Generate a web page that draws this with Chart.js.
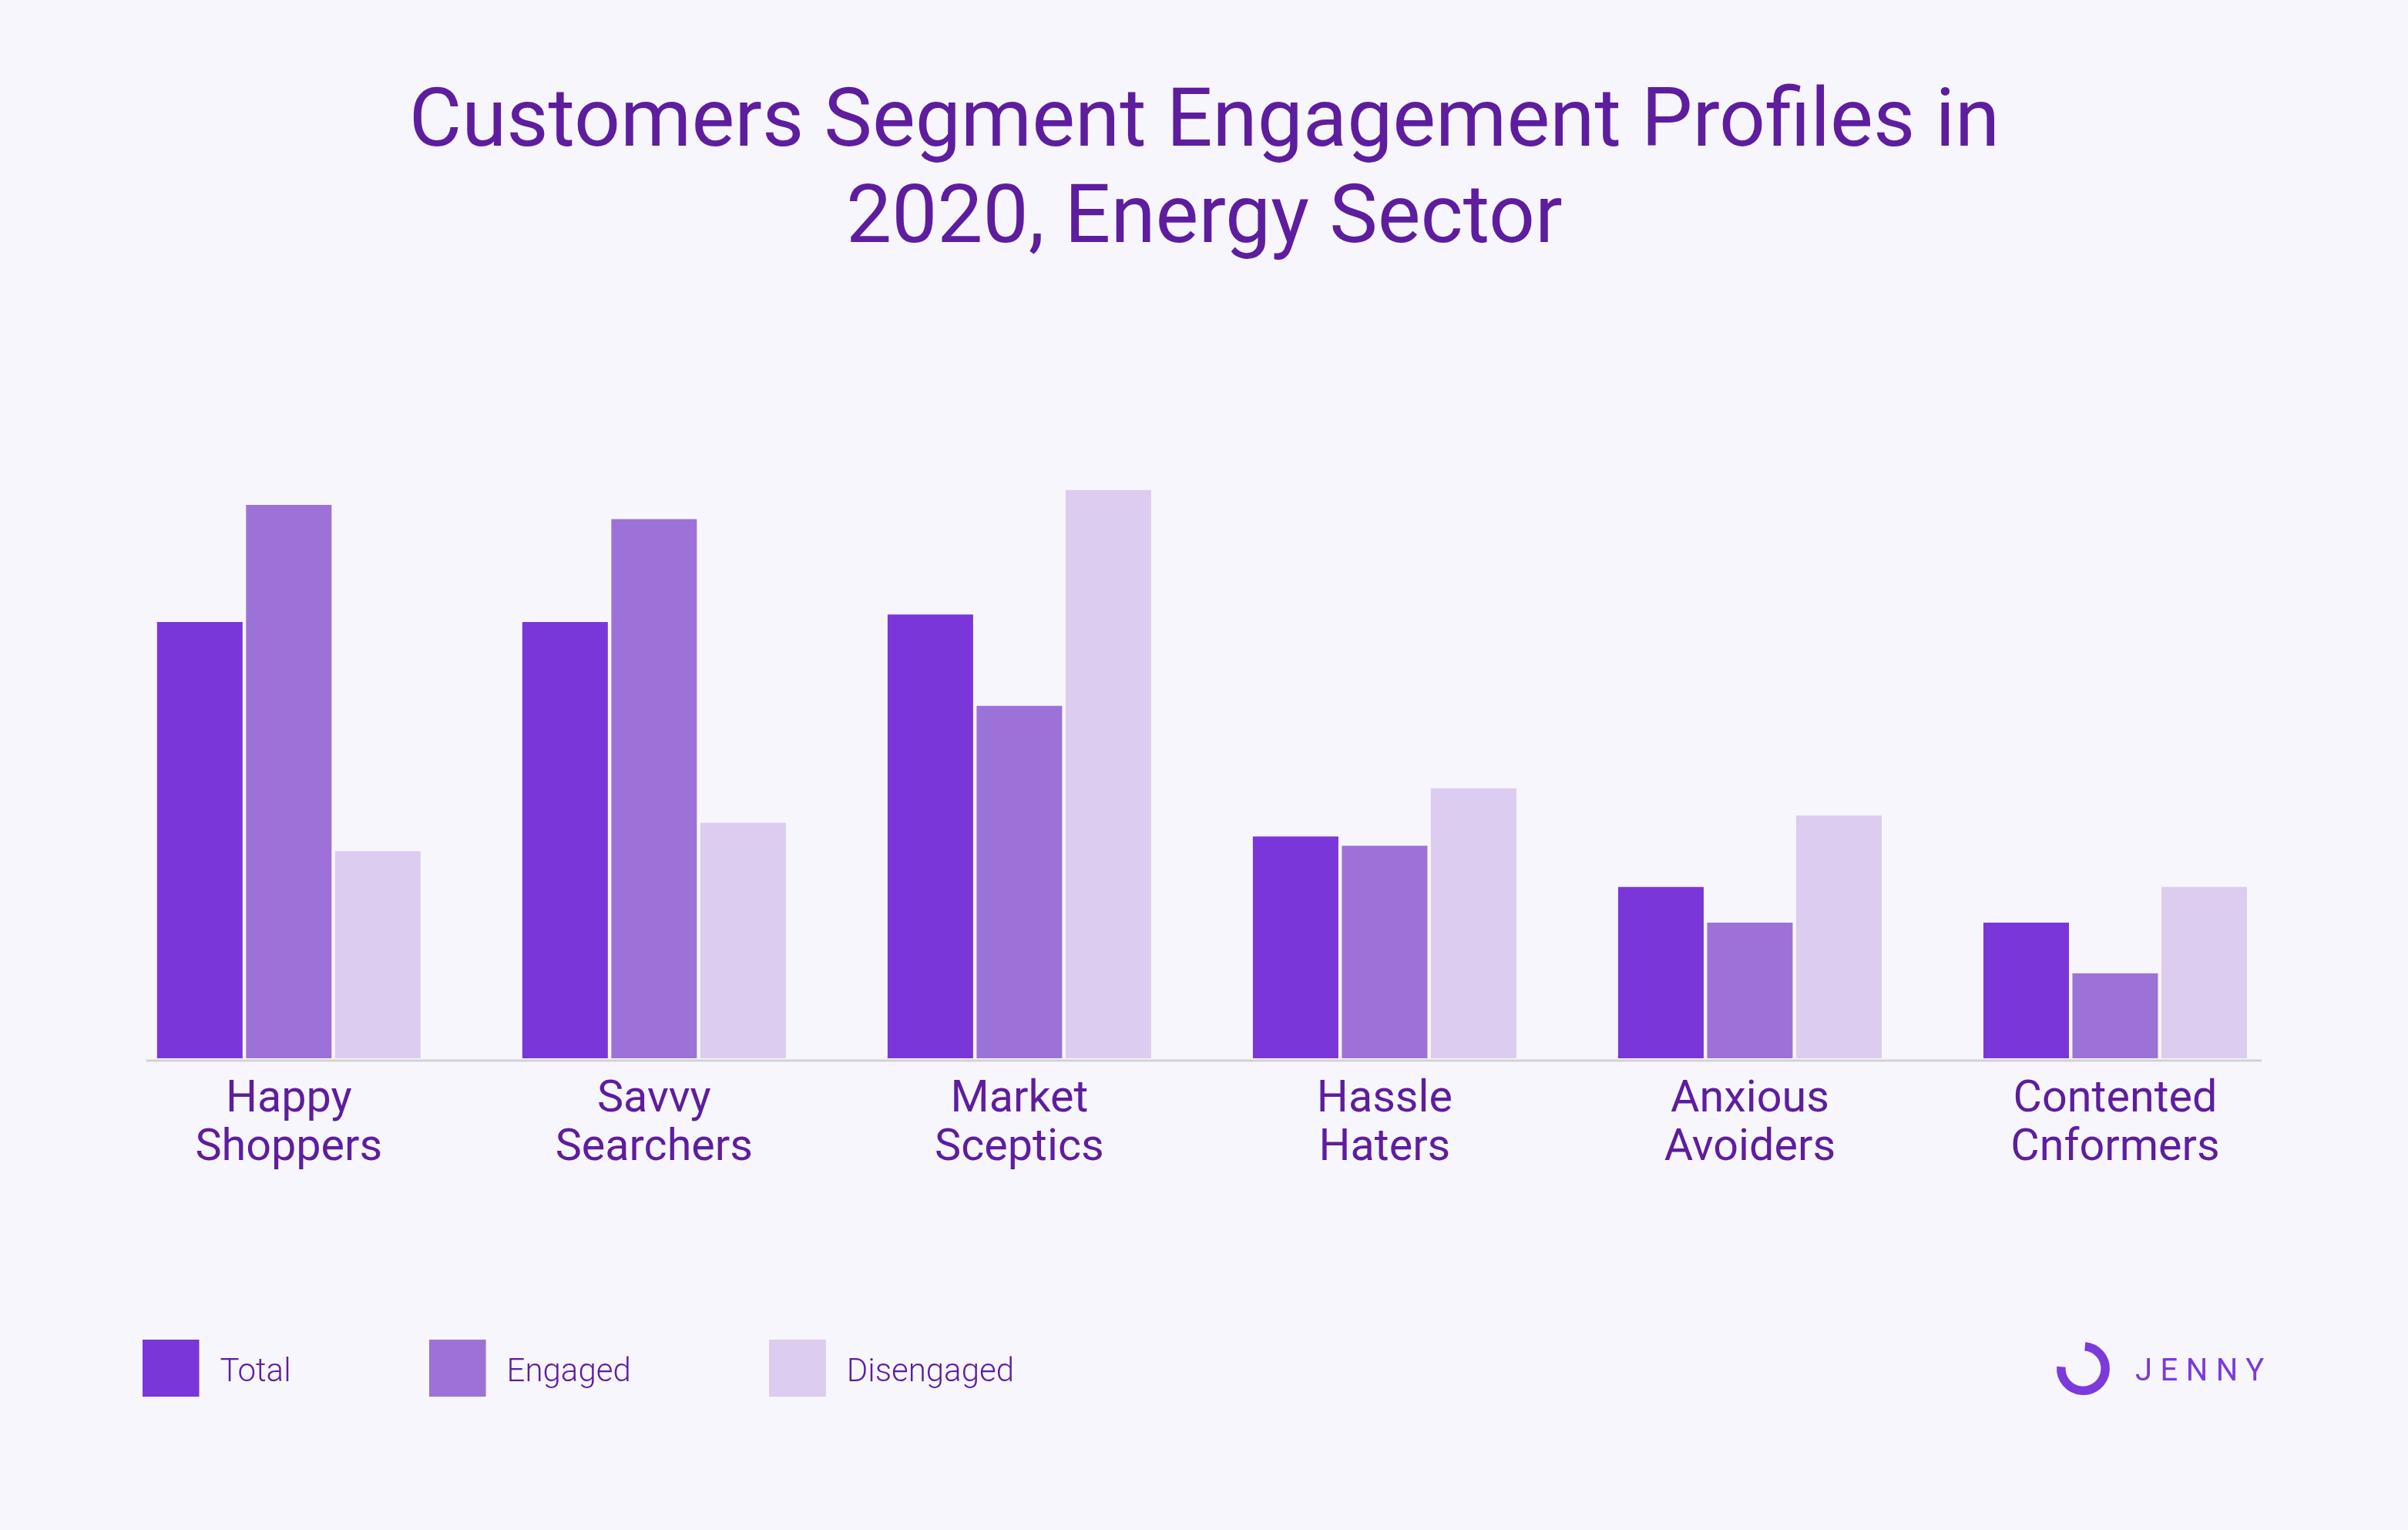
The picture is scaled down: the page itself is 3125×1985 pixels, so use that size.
<!DOCTYPE html>
<html>
<head>
<meta charset="utf-8">
<title>Customers Segment Engagement Profiles</title>
<script src="https://cdn.jsdelivr.net/npm/chart.js@4/dist/chart.umd.min.js"></script>
<style>
  html, body { margin: 0; padding: 0; background: #F7F6FD; }
  canvas { display: block; }
</style>
</head>
<body>
<canvas id="myChart" width="3125" height="1985"></canvas>
<script>
const titleLines = ['Customers Segment Engagement Profiles in', '2020, Energy Sector'];
const labels = [
  ['Happy', 'Shoppers'],
  ['Savvy', 'Searchers'],
  ['Market', 'Sceptics'],
  ['Hassle', 'Haters'],
  ['Anxious', 'Avoiders'],
  ['Contented', 'Cnformers']
];
// no value axis in the picture, so these are read off bar heights as rough percentages
const total = [35.4, 35.4, 36, 18, 13.9, 11];
const engaged = [44.9, 43.75, 28.6, 17.25, 11, 6.9];
const disengaged = [16.8, 19.1, 46.1, 21.9, 19.7, 13.9];

const textColor = '#5E1D9E';
const totalColor = '#7B36D9';
const engagedColor = '#9D72D8';
const disengagedColor = '#DCCCEF';
const logoColor = '#7C3ADB';

// legend square with empty room right and below, moves the text away from the box
function swatch(color) {
  var c = document.createElement('canvas');
  c.width = 80;
  c.height = 86;
  var g = c.getContext('2d');
  g.fillStyle = color;
  g.fillRect(0, 0, 74, 74);
  return c;
}

// base line that stops short of the category edges, and the logo bottom right
const extras = {
  id: 'extras',
  afterLayout(chart) {
    // legend clips to its box, the square hangs out under it
    chart.legend.bottom += 20;
    chart.titleBlock.left += 3;
    chart.titleBlock.right += 3;
  },
  afterDraw(chart) {
    var ctx = chart.ctx;
    var area = chart.chartArea;
    ctx.save();
    ctx.strokeStyle = '#D2D1D6';
    ctx.lineWidth = 3;
    ctx.beginPath();
    ctx.moveTo(area.left + 52, area.bottom + 3);
    ctx.lineTo(area.right - 47, area.bottom + 3);
    ctx.stroke();

    ctx.strokeStyle = logoColor;
    ctx.lineWidth = 11.5;
    ctx.beginPath();
    ctx.arc(2703.5, 1775.5, 28.7, -Math.PI / 2 + 0.08, Math.PI + 0.08);
    ctx.stroke();

    ctx.fillStyle = logoColor;
    ctx.font = '400 40px Roboto';
    ctx.letterSpacing = '10.5px';
    ctx.textAlign = 'left';
    ctx.textBaseline = 'alphabetic';
    ctx.fillText('JENNY', 2771, 1790.5);
    ctx.restore();
  }
};

var ctx = document.getElementById('myChart').getContext('2d');
var myChart = new Chart(ctx, {
  type: 'bar',
  plugins: [extras],
  data: {
    labels: labels,
    datasets: [
      { label: 'Total', data: total, backgroundColor: totalColor },
      { label: 'Engaged', data: engaged, backgroundColor: engagedColor },
      { label: 'Disengaged', data: disengaged, backgroundColor: disengagedColor }
    ]
  },
  options: {
    responsive: false,
    devicePixelRatio: 1,
    animation: false,
    layout: { padding: { left: 5.5, right: 143, top: 0, bottom: 173 } },
    datasets: { bar: { categoryPercentage: 0.731, barPercentage: 0.961 } },
    scales: {
      x: {
        grid: { display: false, drawTicks: false },
        border: { display: false },
        ticks: {
          color: textColor,
          padding: 23,
          maxRotation: 0,
          autoSkip: false,
          font: { family: 'Roboto', size: 57.5, weight: '400', lineHeight: 1.1 }
        },
        afterFit(scale) { scale.height = 208; }
      },
      y: {
        min: 0,
        max: 50,
        grid: { display: false, drawTicks: false },
        border: { display: false },
        ticks: { display: false },
        afterFit(scale) { scale.width = 132.3; }
      }
    },
    plugins: {
      title: {
        display: true,
        fullSize: false,
        text: titleLines,
        color: textColor,
        padding: { top: 101, bottom: 224 },
        font: { family: 'Roboto', size: 105.3, weight: '400', lineHeight: 1.18 }
      },
      legend: {
        position: 'bottom',
        align: 'start',
        labels: {
          usePointStyle: true,
          pointStyleWidth: 80,
          padding: 179,
          color: textColor,
          font: { family: 'Roboto', size: 42, weight: '300' },
          generateLabels(chart) {
            return chart.data.datasets.map(function (ds, i) {
              return {
                text: ds.label,
                pointStyle: swatch(ds.backgroundColor),
                fontColor: textColor,
                lineWidth: 0,
                datasetIndex: i,
                hidden: false
              };
            });
          }
        }
      },
      tooltip: { enabled: false }
    }
  }
});
</script>
</body>
</html>
